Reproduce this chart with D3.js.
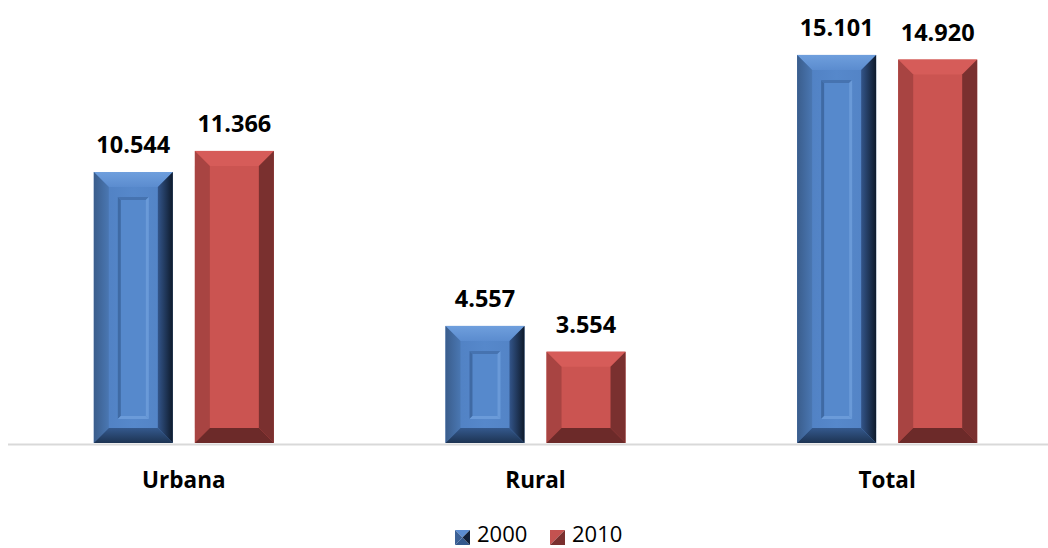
<!DOCTYPE html>
<html>
<head>
<meta charset="utf-8">
<script src="https://cdn.jsdelivr.net/npm/d3@7"></script>
<style>
  html, body { margin: 0; padding: 0; background: #fff; }
  svg { display: block; }
  text { font-family: "Open Sans", "Liberation Sans", sans-serif; }
</style>
</head>
<body>
<svg id="chart" width="1048" height="548"></svg>
<script>
const categories = ["Urbana", "Rural", "Total"];
const seriesNames = ["2000", "2010"];
const values2000 = [10.544, 4.557, 15.101];
const values2010 = [11.366, 3.554, 14.920];
const valueLabels2000 = ["10.544", "4.557", "15.101"];
const valueLabels2010 = ["11.366", "3.554", "14.920"];

const svg = d3.select("#chart");
const W = 1048, H = 548;
const baseY = 443;

const x0 = d3.scaleBand().domain(categories).range([8, 1063]).paddingInner(0.488).paddingOuter(0.244);
const x1 = d3.scaleBand().domain(seriesNames).range([0, x0.bandwidth()]).paddingInner(0.218).paddingOuter(0);
const y = d3.scaleLinear().domain([0, 16]).range([baseY, baseY - 16 * 25.7]);

const defs = svg.append("defs");
function lin(id, x1_, y1_, x2_, y2_, stops) {
  const g = defs.append("linearGradient").attr("id", id)
    .attr("x1", x1_).attr("y1", y1_).attr("x2", x2_).attr("y2", y2_);
  stops.forEach(s => g.append("stop").attr("offset", s[0]).attr("stop-color", s[1]));
}
// blue gradients
lin("bFace", "0", "0", "1", "0", [[0, "#4f7fc1"], [0.5, "#5688cb"], [1, "#5282c4"]]);
lin("bTop", "0", "0", "0", "1", [[0, "#6f9fdd"], [1, "#5b8ccf"]]);
lin("bLeft", "0", "0", "1", "0", [[0, "#3a5d8c"], [1, "#4a77b2"]]);
lin("bRight", "0", "0", "1", "0", [[0, "#33558a"], [1, "#0e1a2b"]]);
lin("bBottom", "0", "0", "0", "1", [[0, "#34598d"], [1, "#1d3352"]]);

const series = [
  { name: "2000", values: values2000, labels: valueLabels2000, kind: "blue" },
  { name: "2010", values: values2010, labels: valueLabels2010, kind: "red" }
];

const colors = {
  blue: { face: "url(#bFace)", top: "url(#bTop)", left: "url(#bLeft)", right: "url(#bRight)", bottom: "url(#bBottom)" },
  red: { face: "#cb5451", top: "#d65c59", left: "#a84442", right: "#7a302f", bottom: "#6c2a29" }
};

// axis line
svg.append("line").attr("x1", 8).attr("x2", 1048).attr("y1", baseY + 1.5).attr("y2", baseY + 1.5)
  .attr("stroke", "#d9d9d9").attr("stroke-width", 2);

function bevelBar(g, x, yt, w, h, c, b, panel) {
  const xr = x + w, yb = yt + h;
  g.append("rect").attr("x", x).attr("y", yt).attr("width", w).attr("height", h).attr("fill", c.face);
  const poly = (pts, fill) => g.append("polygon").attr("points", pts.map(p => p.join(",")).join(" ")).attr("fill", fill);
  poly([[x, yt], [xr, yt], [xr - b, yt + b], [x + b, yt + b]], c.top);
  poly([[x, yt], [x + b, yt + b], [x + b, yb - b], [x, yb]], c.left);
  poly([[xr, yt], [xr, yb], [xr - b, yb - b], [xr - b, yt + b]], c.right);
  poly([[x, yb], [x + b, yb - b], [xr - b, yb - b], [xr, yb]], c.bottom);
  if (panel) {
    const ix = x + b + 9, iy = yt + b + 10, iw = w - 2 * (b + 9), ih = h - 2 * b - 19;
    if (ih > 10) {
      const ib = 3;
      const ixr = ix + iw, iyb = iy + ih;
      g.append("rect").attr("x", ix).attr("y", iy).attr("width", iw).attr("height", ih).attr("fill", "#5689cc");
      poly([[ix, iy], [ixr, iy], [ixr - ib, iy + ib], [ix + ib, iy + ib]], "#4673b0");
      poly([[ix, iy], [ix + ib, iy + ib], [ix + ib, iyb - ib], [ix, iyb]], "#3f6aa4");
      poly([[ixr, iy], [ixr, iyb], [ixr - ib, iyb - ib], [ixr - ib, iy + ib]], "#6a9ad8");
      poly([[ix, iyb], [ix + ib, iyb - ib], [ixr - ib, iyb - ib], [ixr, iyb]], "#6b9bd9");
    }
  }
}

series.forEach(s => {
  const g = svg.append("g");
  categories.forEach((cat, i) => {
    const v = s.values[i];
    const bx = x0(cat) + x1(s.name);
    const bw = x1.bandwidth();
    const yt = y(v);
    const h = baseY - yt;
    bevelBar(g.append("g"), bx, yt, bw, h, colors[s.kind], 15, s.kind === "blue");
    svg.append("text")
      .attr("x", bx + bw / 2).attr("y", yt - 19)
      .attr("text-anchor", "middle")
      .attr("font-size", 23.5).attr("font-weight", 700).attr("fill", "#000")
      .text(s.labels[i]);
  });
});

// category labels
svg.append("g").selectAll("text").data(categories).join("text")
  .attr("x", d => x0(d) + x0.bandwidth() / 2)
  .attr("y", 488)
  .attr("text-anchor", "middle")
  .attr("font-size", 22.5).attr("font-weight", 700).attr("fill", "#000")
  .text(d => d);

// legend
const legendX = [455, 550];
series.forEach((s, i) => {
  const lx = legendX[i], ly = 530, sz = 15;
  const lg = svg.append("g");
  const poly = (pts, fill) => lg.append("polygon").attr("points", pts.map(p => p.join(",")).join(" ")).attr("fill", fill);
  const cx = lx + sz / 2, cy = ly + sz / 2;
  if (s.kind === "blue") {
    poly([[lx, ly], [lx + sz, ly], [cx, cy]], "#5b8cd0");
    poly([[lx, ly + sz], [lx + sz, ly + sz], [cx, cy]], "#34598d");
    poly([[lx, ly], [lx, ly + sz], [cx, cy]], "#3c6196");
    poly([[lx + sz, ly], [lx + sz, ly + sz], [cx, cy]], "#12213a");
  } else {
    poly([[lx, ly], [lx + sz, ly], [lx, ly + sz]], "#c45250");
    poly([[lx + sz, ly], [lx + sz, ly + sz], [lx, ly + sz]], "#7a302f");
  }
  svg.append("text").attr("x", lx + sz + 7).attr("y", 542)
    .attr("font-size", 22).attr("fill", "#000").text(s.name);
});
</script>
</body>
</html>
